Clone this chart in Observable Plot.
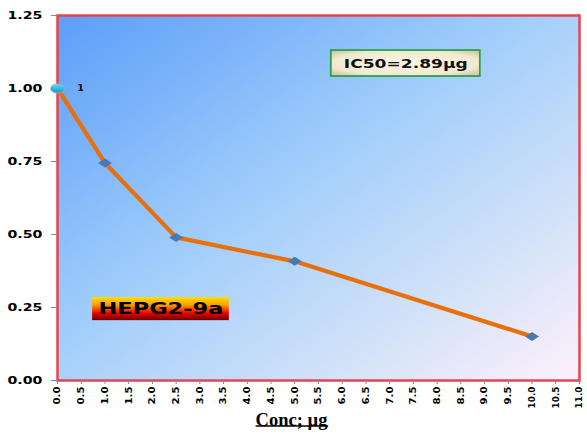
<!DOCTYPE html>
<html>
<head>
<meta charset="utf-8">
<script src="https://cdn.jsdelivr.net/npm/d3@7"></script>
<script src="https://cdn.jsdelivr.net/npm/@observablehq/plot@0.6"></script>
<style>
  html, body { margin: 0; padding: 0; background: #fff; }
  #chart svg { display: block; }
</style>
</head>
<body>
<div id="chart"></div>
<script>
// Concentration (µg) and remaining cell viability for HEPG2 cells, compound 9a
const conc = [0, 1, 2.5, 5, 10];
const viability = [1, 0.745, 0.49, 0.408, 0.151];

// Axis ticks
const xTicks = d3.range(0, 11.001, 0.5);
const yTicks = [0, 0.25, 0.5, 0.75, 1, 1.25];

// Annotation boxes in data units
const ic50Text = ["IC50=2.89µg"];
const ic50Box = [{x1: 5.77, x2: 8.91, y1: 1.041, y2: 1.130, tx: 7.34, ty: 1.086}];
const cellText = ["HEPG2-9a"];
const cellBox = [{x1: 0.74, x2: 3.62, y1: 0.205, y2: 0.284, tx: 2.18, ty: 0.245}];
const xTitle = ["Conc; µg"];

const points = conc.map((c, i) => ({conc: c, v: viability[i]}));

// Marker shapes: a flattened ellipse for the starting value, flat diamonds for the rest
const ellipseSymbol = {
  draw(ctx) {
    const rx = 7, ry = 4.5, k = 0.5523;
    ctx.moveTo(rx, 0);
    ctx.bezierCurveTo(rx, ry * k, rx * k, ry, 0, ry);
    ctx.bezierCurveTo(-rx * k, ry, -rx, ry * k, -rx, 0);
    ctx.bezierCurveTo(-rx, -ry * k, -rx * k, -ry, 0, -ry);
    ctx.bezierCurveTo(rx * k, -ry, rx, -ry * k, rx, 0);
    ctx.closePath();
  }
};
const diamondSymbol = {
  draw(ctx) {
    ctx.moveTo(-7, 0);
    ctx.lineTo(0, -4.5);
    ctx.lineTo(7, 0);
    ctx.lineTo(0, 4.5);
    ctx.closePath();
  }
};

const svg = Plot.plot({
  width: 587,
  height: 438,
  marginLeft: 57,
  marginRight: 8,
  marginTop: 15,
  marginBottom: 58,
  style: {fontFamily: "DejaVu Sans, sans-serif", background: "#fff", color: "#000"},
  x: {domain: [0, 11]},
  y: {domain: [0, 1.25]},
  marks: [
    Plot.frame({fill: "url(#bgGrad)", stroke: "#e6444f", strokeWidth: 2.5}),
    Plot.axisY({ticks: yTicks, tickFormat: d3.format(".2f"), tickSize: 6, tickPadding: 9,
      fontSize: 10.5, fontWeight: "bold", stroke: "#888", fill: "#000", label: null}),
    Plot.axisX({ticks: xTicks, tickFormat: d3.format(".1f"), tickSize: 4, tickPadding: 2,
      tickRotate: -90, fontSize: 9, fontWeight: "bold", stroke: "#888", fill: "#000", label: null}),
    Plot.line(points, {x: "conc", y: "v", stroke: "#e8700c", strokeWidth: 4.2, strokeLinejoin: "round"}),
    Plot.dot(points.slice(1), {x: "conc", y: "v", symbol: diamondSymbol, fill: "#4a78b0", stroke: "none"}),
    Plot.dot(points.slice(0, 1), {x: "conc", y: "v", symbol: ellipseSymbol, fill: "url(#dotGrad)", stroke: "#8ab4cc", strokeWidth: 0.8}),
    Plot.text(points.slice(0, 1), {x: "conc", y: "v", text: d => String(d.v), dx: 23, fontSize: 9, fontWeight: "bold", fill: "#000"}),
    // IC50 annotation
    Plot.rect(ic50Box, {x1: "x1", x2: "x2", y1: "y1", y2: "y2", fill: "url(#creamGrad)", stroke: "#2ca24c", strokeWidth: 1.8}),
    Plot.text(ic50Box, {x: "tx", y: "ty", text: (d, i) => ic50Text[i], fontSize: 13, fontWeight: "bold", fill: "#111",
      ariaLabel: () => "ic50-label"}),
    // Cell line tag
    Plot.rect(cellBox, {x1: "x1", x2: "x2", y1: "y1", y2: "y2", fill: "url(#tagGrad)", stroke: "none"}),
    Plot.text(cellBox, {x: "tx", y: "ty", text: (d, i) => cellText[i], fontSize: 16, fontWeight: "bold", fill: "#000",
      ariaLabel: () => "cell-label"}),
    // X-axis title, centred on the page
    Plot.text(xTitle, {frameAnchor: "bottom", dx: -27, dy: 45, text: d => d, fontSize: 18.5, fontWeight: "bold",
      fontFamily: "Liberation Serif, DejaVu Serif, serif", fill: "#000", ariaLabel: () => "x-title"})
  ]
});

// Gradients used by the plot area and annotation boxes
const defs = d3.select(svg).insert("defs", ":first-child");
const bg = defs.append("linearGradient").attr("id", "bgGrad")
  .attr("x1", "0").attr("y1", "0").attr("x2", "1").attr("y2", "1");
bg.append("stop").attr("offset", "0%").attr("stop-color", "#5c9ef9");
bg.append("stop").attr("offset", "45%").attr("stop-color", "#a2cefb");
bg.append("stop").attr("offset", "75%").attr("stop-color", "#d2e2f8");
bg.append("stop").attr("offset", "100%").attr("stop-color", "#fff0fc");

const tag = defs.append("linearGradient").attr("id", "tagGrad")
  .attr("x1", "0").attr("y1", "0").attr("x2", "0").attr("y2", "1");
tag.append("stop").attr("offset", "0%").attr("stop-color", "#ffe000");
tag.append("stop").attr("offset", "35%").attr("stop-color", "#ff9a00");
tag.append("stop").attr("offset", "70%").attr("stop-color", "#e80000");
tag.append("stop").attr("offset", "100%").attr("stop-color", "#6a0000");

const cream = defs.append("radialGradient").attr("id", "creamGrad")
  .attr("cx", "0.5").attr("cy", "0.5").attr("r", "0.7");
cream.append("stop").attr("offset", "0%").attr("stop-color", "#fbf6e6");
cream.append("stop").attr("offset", "70%").attr("stop-color", "#f1e9cf");
cream.append("stop").attr("offset", "100%").attr("stop-color", "#c9bc98");

const dot = defs.append("linearGradient").attr("id", "dotGrad")
  .attr("x1", "0").attr("y1", "0").attr("x2", "0").attr("y2", "1");
dot.append("stop").attr("offset", "0%").attr("stop-color", "#5fe0f5");
dot.append("stop").attr("offset", "100%").attr("stop-color", "#1a8fd0");

// Broad, stretched lettering for tick labels and tags
const root = d3.select(svg);
const stretch = (sel, len) => root.selectAll(sel)
  .attr("textLength", len).attr("lengthAdjust", "spacingAndGlyphs");
stretch('g[aria-label="y-axis tick label"] text', 35);
stretch('g[aria-label="x-axis tick label"] text', function () { return this.textContent.length > 3 ? 22 : 18; });
stretch('text[aria-label="ic50-label"]', 124);
stretch('text[aria-label="cell-label"]', 125);

document.getElementById("chart").appendChild(svg);

// Underline the x-axis title
root.selectAll('text[aria-label="x-title"]').each(function () {
  const b = this.getBBox();
  const m = this.getCTM();
  const sm = svg.getCTM() ? svg.getCTM().inverse() : null;
  const p0 = svg.createSVGPoint(); p0.x = b.x; p0.y = b.y + b.height;
  const p1 = svg.createSVGPoint(); p1.x = b.x + b.width; p1.y = b.y + b.height;
  let a = p0.matrixTransform(m), c = p1.matrixTransform(m);
  if (sm) { a = a.matrixTransform(sm); c = c.matrixTransform(sm); }
  root.append("line")
    .attr("x1", a.x).attr("x2", c.x)
    .attr("y1", a.y - 3.5).attr("y2", c.y - 3.5)
    .attr("stroke", "#000").attr("stroke-width", 1.6);
});
</script>
</body>
</html>
